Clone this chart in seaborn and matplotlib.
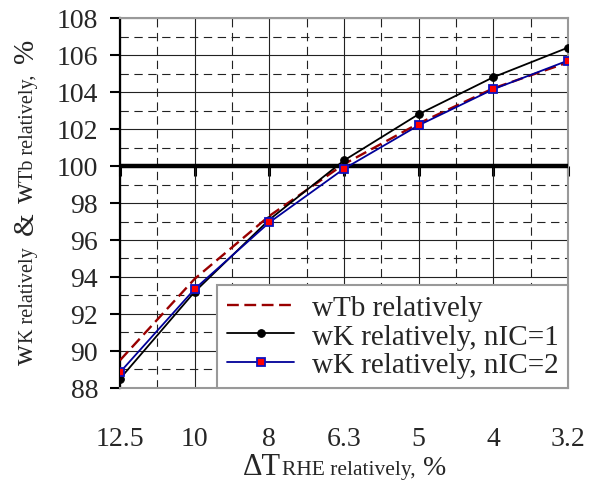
import numpy as np
import pandas as pd
import matplotlib
matplotlib.use("Agg")
import matplotlib.pyplot as plt
import seaborn as sns

# ---- data ----
x_labels = ["12.5", "10", "8", "6.3", "5", "4", "3.2"]
w_tb = [89.5, 93.9, 97.3, 100.1, 102.3, 104.2, 105.6]
w_k_nic1 = [88.5, 93.2, 97.1, 100.3, 102.8, 104.8, 106.4]
w_k_nic2 = [88.85, 93.35, 96.95, 99.85, 102.2, 104.15, 105.7]
series_labels = ["wTb relatively", "wK relatively, nIC=1", "wK relatively, nIC=2"]
y_ticks = list(range(88, 109, 2))
y_minor = list(range(89, 108, 2))
ref_level = 100

sns.set_style("white")
plt.rcParams["font.family"] = ["Liberation Serif", "DejaVu Serif"]
plt.rcParams["lines.scale_dashes"] = False

W, H = 600, 485
fig = plt.figure(figsize=(W / 100, H / 100), dpi=100)
ax = fig.add_axes([120 / W, 1 - 389 / H, 448 / W, 370 / H])

pos = np.arange(len(x_labels))
df = pd.DataFrame({"pos": pos, "wtb": w_tb, "k1": w_k_nic1, "k2": w_k_nic2})

sns.lineplot(data=df, x="pos", y="wtb", ax=ax, color="#990000", lw=1.7,
             linestyle=(0, (8.5, 4)), label=series_labels[0], zorder=4)
sns.lineplot(data=df, x="pos", y="k1", ax=ax, color="black", lw=1.3,
             marker="o", markersize=5.5, markeredgecolor="black",
             markerfacecolor="black", label=series_labels[1], zorder=5)
sns.lineplot(data=df, x="pos", y="k2", ax=ax, color="#000099", lw=1.3,
             marker="s", markersize=5.5, markeredgecolor="#1010c0",
             markeredgewidth=1.3, markerfacecolor="#ff0000",
             label=series_labels[2], zorder=6)

ax.set_xlim(0, len(x_labels) - 1)
ax.set_ylim(88, 108)
ax.set_xticks(pos, x_labels)
ax.set_yticks(y_ticks)
ax.set_xticks(pos[:-1] + 0.5, minor=True)
ax.set_yticks(y_minor, minor=True)
ax.set_xlabel("")
ax.set_ylabel("")

ax.tick_params(axis="x", which="major", length=0, pad=27, labelsize=20)
ax.tick_params(axis="y", which="major", left=True, length=7.2, width=1.5,
               direction="out", pad=8.6, labelsize=20, color="black")
ax.tick_params(which="minor", length=0)

ax.set_axisbelow(True)
ax.grid(which="major", color="#222222", lw=0.8, ls="-")
ax.grid(which="minor", color="#222222", lw=0.8, ls=(0, (6, 4)))

for side in ["top", "right", "bottom"]:
    ax.spines[side].set_color("#999999")
    ax.spines[side].set_linewidth(1.5)
ax.spines["left"].set_color("black")
ax.spines["left"].set_linewidth(1.6)

ax.axhline(ref_level, color="black", lw=3.2, zorder=3)
sec = ax.secondary_xaxis((ref_level - 88) / 20)
sec.set_xticks(pos)
for s in sec.spines.values():
    s.set_visible(False)
sec.tick_params(axis="x", direction="out", length=7.2, width=2.2, color="black",
                bottom=True, top=False, labelbottom=False, labeltop=False)

leg = ax.legend(loc="lower right", bbox_to_anchor=(1, 0), borderaxespad=0,
                fontsize=21, frameon=True, fancybox=False, edgecolor="#999999",
                framealpha=1, handlelength=2.3, handletextpad=0.6,
                labelspacing=0.08, borderpad=0.33)
leg.get_frame().set_linewidth(1.5)
leg.set_zorder(10)

fig.canvas.draw()
renderer = fig.canvas.get_renderer()


def chain_text(x0, y0, pieces, rotation=0):
    x, y = x0, y0
    for s, size, gap in pieces:
        if rotation == 90:
            y += gap
        else:
            x += gap
        t = fig.text(x / W, y / H, s, fontsize=size, rotation=rotation,
                     rotation_mode="anchor", ha="left", va="baseline")
        bb = t.get_window_extent(renderer)
        if rotation == 90:
            y += bb.height
        else:
            x += bb.width


chain_text(33, H - 365, [("w", 21, 0), ("K relatively", 14.5, 1), ("&", 21, 12),
                         ("w", 21, 9), ("Tb relatively,", 14.5, 1), ("%", 21, 11)],
           rotation=90)
chain_text(243, H - 475, [("ΔT", 22, 0), ("RHE relatively,", 15.5, 1),
                          ("%", 20, 7)])

fig.savefig("out.png", dpi=100)
